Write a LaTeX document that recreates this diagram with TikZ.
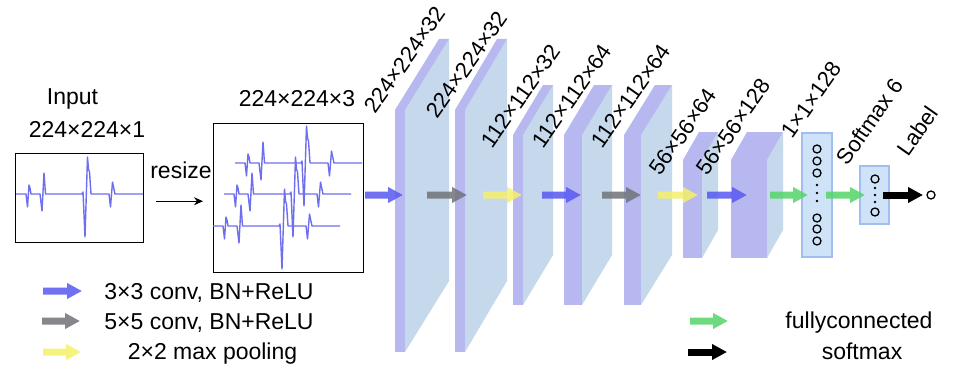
\documentclass[tikz,border=0pt]{standalone}
\usepackage{fontspec}
\setmainfont{Liberation Sans}
\usetikzlibrary{arrows.meta}
\definecolor{lfront}{RGB}{184,184,240}
\definecolor{lside}{RGB}{198,216,236}
\definecolor{sigblue}{RGB}{110,110,240}
\definecolor{ablue}{RGB}{88,88,240}
\definecolor{agray}{RGB}{112,115,122}
\definecolor{ayellow}{RGB}{245,240,105}
\definecolor{agreen}{RGB}{85,212,105}
\definecolor{fcfill}{RGB}{206,226,248}
\definecolor{fcdraw}{RGB}{160,190,240}
\newcommand\cnnlayer[6]{%
  \fill[lside] ({#1+#2},#3) -- ({#1+#2+#5},{#3+#6}) -- ({#1+#2+#5},{#4+#6}) -- ({#1+#2},#4) -- cycle;
  \fill[lfront] (#1,#3) -- ({#1+#5},{#3+#6}) -- ({#1+#2+#5},{#3+#6}) -- ({#1+#2},#3) -- cycle;
  \fill[lfront] (#1,#3) rectangle ({#1+#2},#4);
}
\newcommand\ecg[1]{\draw[sig,shift={#1}] (0,0) -- (10,0) -- (11.5,13) -- (13,-9) -- (14,-6) -- (15,0) -- (24,0) -- (26,17) -- (28,-21) -- (29.5,0) -- (66,0) -- (67,-2) -- (69,43) -- (71.5,-37) -- (72.5,-25) -- (73.5,-22) -- (75,0) -- (93,0) -- (94.5,13) -- (96.5,-12) -- (97.5,-7) -- (99,0) -- (127,0);}
\begin{document}
\begin{tikzpicture}[x=1pt,y=-1pt,
  txt/.style={inner sep=0,font=\fontsize{23}{23}\selectfont},
  rl/.style={inner sep=0,rotate=55,anchor=south west,font=\fontsize{22}{22}\selectfont},
  sig/.style={sigblue,line width=1.4pt,line join=round},
  frame/.style={draw,line width=1.4pt,inner sep=0,anchor=north west},
  arr/.style={line width=7pt,-{Triangle[length=15pt,width=15pt]}},
  neuron/.style={circle,draw,line width=1.3pt,minimum size=8pt,inner sep=0},
  ndot/.style={circle,fill,minimum size=2.6pt,inner sep=0},
  fcbox/.style={draw=fcdraw,fill=fcfill,line width=1.2pt,inner sep=0}]
\fill[white] (0,0) rectangle (955,369);
\useasboundingbox (0,0) rectangle (955,369);

% input
\node[txt,anchor=base] (tinput) at (72.5,104) {Input};
\node[txt,anchor=base] (tin) at (87,137) {224×224×1};
\node[frame,minimum width=128pt,minimum height=89pt] (inbox) at (15,153) {};
\ecg{(16,194)}
\node[txt,anchor=base] (tres) at (181,178) {resize};
\node[txt,anchor=base] (tres3) at (297,106) {224×224×3};
\node[frame,minimum width=150pt,minimum height=149pt] (resbox) at (213,123) {};
\ecg{(235,163)}
\ecg{(224,194)}
\ecg{(213,226)}
\draw[line width=1.3pt,-{Stealth[length=9pt,width=8pt]}] (inbox.east) ++(12,3) coordinate (ra) -- ([xshift=-10pt,yshift=-3pt]resbox.west) coordinate (rb);

% layers
\cnnlayer{395}{10}{110}{352}{44}{-71}
\cnnlayer{455}{10}{110}{352}{42}{-71}
\cnnlayer{513}{10}{135}{305}{30}{-50}
\cnnlayer{564}{18}{135}{305}{30}{-50}
\cnnlayer{624}{17}{135}{305}{31}{-50}
\cnnlayer{683}{19}{160}{258}{16}{-28}
\cnnlayer{731}{36}{160}{258}{16}{-28}

% fc boxes
\node[fcbox,minimum width=30pt,minimum height=124pt] (fc) at (817,195) {};
\node[fcbox,minimum width=29pt,minimum height=58pt] (sm) at (874.5,195) {};
\foreach \y [count=\i] in {149,161,173,218,229,241}
  \node[neuron] (c\i) at (817,\y) {};
\foreach \y [count=\i] in {185,193,201}
  \node[ndot] (d\i) at (817,\y) {};
\node[neuron] (s1) at (875,179) {};
\node[neuron] (s2) at (875,212) {};
\foreach \y [count=\i] in {188,195,202}
  \node[ndot] (e\i) at (875,\y) {};
\node[neuron] (lab) at (931,195) {};

% labels
\node[rl] (l1) at (376,115) {224×224×32};
\node[rl] (l2) at (438,120) {224×224×32};
\node[rl] (l3) at (493,150) {112×112×32};
\node[rl] (l4) at (544,150) {112×112×64};
\node[rl] (l5) at (603,150) {112×112×64};
\node[rl] (l6) at (661,177) {56×56×64};
\node[rl] (l7) at (708,177) {56×56×128};
\node[rl] (l8) at (793,140) {1×1×128};
\node[rl] (l9) at (848,167) {Softmax 6};
\node[rl] (l10) at (909,158) {Label};

% arrow end points
\foreach \n/\a/\b in {1/365/403,2/427/467,3/483/522,4/542/581,5/602/641,6/658/698,7/707/747,8/770/808,9/826/865,10/883/923}{
  \coordinate (a\n s) at (\a,195);
  \coordinate (a\n e) at (\b,195);
}
\coordinate (g1s) at (43,291); \coordinate (g1e) at (82,291);
\coordinate (g2s) at (42,321); \coordinate (g2e) at (80,321);
\coordinate (g3s) at (43,352); \coordinate (g3e) at (81,352);
\coordinate (g4s) at (690,321); \coordinate (g4e) at (728,321);
\coordinate (g5s) at (688,352); \coordinate (g5e) at (727,352);

\begin{scope}[transparency group,opacity=0.85]
\draw[arr,ablue] (a1s) -- (a1e);
\draw[arr,agray] (a2s) -- (a2e);
\draw[arr,ayellow] (a3s) -- (a3e);
\draw[arr,ablue] (a4s) -- (a4e);
\draw[arr,agray] (a5s) -- (a5e);
\draw[arr,ayellow] (a6s) -- (a6e);
\draw[arr,ablue] (a7s) -- (a7e);
\draw[arr,agreen] (a8s) -- (a8e);
\draw[arr,agreen] (a9s) -- (a9e);
\draw[arr,ablue] (g1s) -- (g1e);
\draw[arr,agray] (g2s) -- (g2e);
\draw[arr,ayellow] (g3s) -- (g3e);
\draw[arr,agreen] (g4s) -- (g4e);
\end{scope}
\draw[arr,black] (a10s) -- (a10e);
\draw[arr,black] (g5s) -- (g5e);

% legend text
\node[txt,anchor=base] (t1) at (209,299) {3×3 conv, BN+ReLU};
\node[txt,anchor=base] (t2) at (209,329) {5×5 conv, BN+ReLU};
\node[txt,anchor=base] (t3) at (212.5,359) {2×2 max pooling};
\node[txt,anchor=base] (t4) at (859,328) {fullyconnected};
\node[txt,anchor=base] (t5) at (862,359) {softmax};
\end{tikzpicture}
\end{document}
